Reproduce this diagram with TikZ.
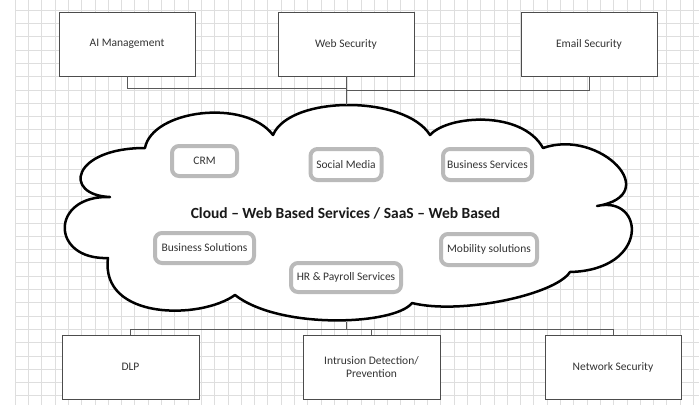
\documentclass[tikz,border=0pt]{standalone}
\usepackage{fontspec}
\setmainfont{Carlito}
\begin{document}
\begin{tikzpicture}[x=1pt,y=-1pt,
  gridline/.style={draw=black!13, line width=0.6pt},
  outerbox/.style={draw=black!70, line width=0.9pt, fill=white, minimum width=136pt,
    minimum height=64pt, inner sep=0pt, text=black!80, align=center,
    font=\fontsize{11.5}{12.6}\selectfont},
  svcbox/.style={draw=black!27, line width=4pt, rounded corners=7pt, fill=white,
    inner sep=0pt, text=black!80, font=\fontsize{11.5}{12.6}\selectfont},
  link/.style={draw=black!65, line width=0.9pt},
  cloudline/.style={draw=black, line width=2.5pt, fill=white, line join=round}
]
\useasboundingbox (0,0) rectangle (699,405);
\fill[white] (0,0) rectangle (699,405);
% grid
\foreach \i in {0,...,51} \draw[gridline] ({15+13.3*\i},0) -- ({15+13.3*\i},405);
\foreach \j in {0,...,29} \draw[gridline] (15,{10+13.3*\j}) -- (699,{10+13.3*\j});

% cloud
\draw[cloudline] (145,148)
  .. controls (152,110) and (245,98) .. (273,135)
  .. controls (290,95) and (405,95) .. (430,135)
  .. controls (448,115) and (522,110) .. (543,148)
  .. controls (600,128) and (665,195) .. (597,206)
  .. controls (645,195) and (650,270) .. (570,272)
  .. controls (555,295) and (460,315) .. (412,303)
  .. controls (395,325) and (280,330) .. (235,295)
  .. controls (200,320) and (100,320) .. (108,258)
  .. controls (50,260) and (50,195) .. (110,197)
  .. controls (62,195) and (72,148) .. (145,148) -- cycle;

\coordinate (cloudtop) at (346,105);
\coordinate (cloudbot) at (346,322);
\coordinate (jtl) at (346,88);
\coordinate (jtr) at (346,90.7);
\coordinate (jb) at (346,329);

% top boxes
\node[outerbox] (ai) at (127,44) {AI Management};
\node[outerbox] (web) at (346,44) {Web Security};
\node[outerbox] (mail) at (589,44) {Email Security};

% bottom boxes
\node[outerbox, minimum width=137pt] (dlp) at (130.5,367) {DLP};
\node[outerbox, minimum width=137pt] (ids) at (371.5,367) {Intrusion Detection/\\Prevention};
\node[outerbox] (net) at (613,367) {Network Security};

% connectors
\draw[link] (ai.south) |- (jtl);
\draw[link] (mail.south) |- (jtr);
\draw[link] (web.south) -- (cloudtop);
\draw[link] (cloudbot) -- (jb);
\draw[link] (dlp.north) |- (jb);
\draw[link] (jb) -| (net.north);
\draw[link] (ids.north) -- (ids.north |- jb);

% services inside cloud
\node[svcbox, minimum width=65pt, minimum height=30pt] (crm) at (204.5,161) {CRM};
\node[svcbox, minimum width=71pt, minimum height=31pt] (social) at (346,164.5) {Social Media};
\node[svcbox, minimum width=89pt, minimum height=31pt] (bizserv) at (487.5,164.5) {Business Services};
\node[svcbox, minimum width=99pt, minimum height=30pt] (bizsol) at (204.5,248) {Business Solutions};
\node[svcbox, minimum width=96pt, minimum height=31pt] (mobile) at (489,249.5) {Mobility solutions};
\node[svcbox, minimum width=110pt, minimum height=29pt] (hr) at (346,277.5) {HR \& Payroll Services};

\node[font=\bfseries\fontsize{15.5}{17}\selectfont, text=black!90] (title) at (345.5,213)
  {Cloud – Web Based Services / SaaS – Web Based};
\end{tikzpicture}
\end{document}
